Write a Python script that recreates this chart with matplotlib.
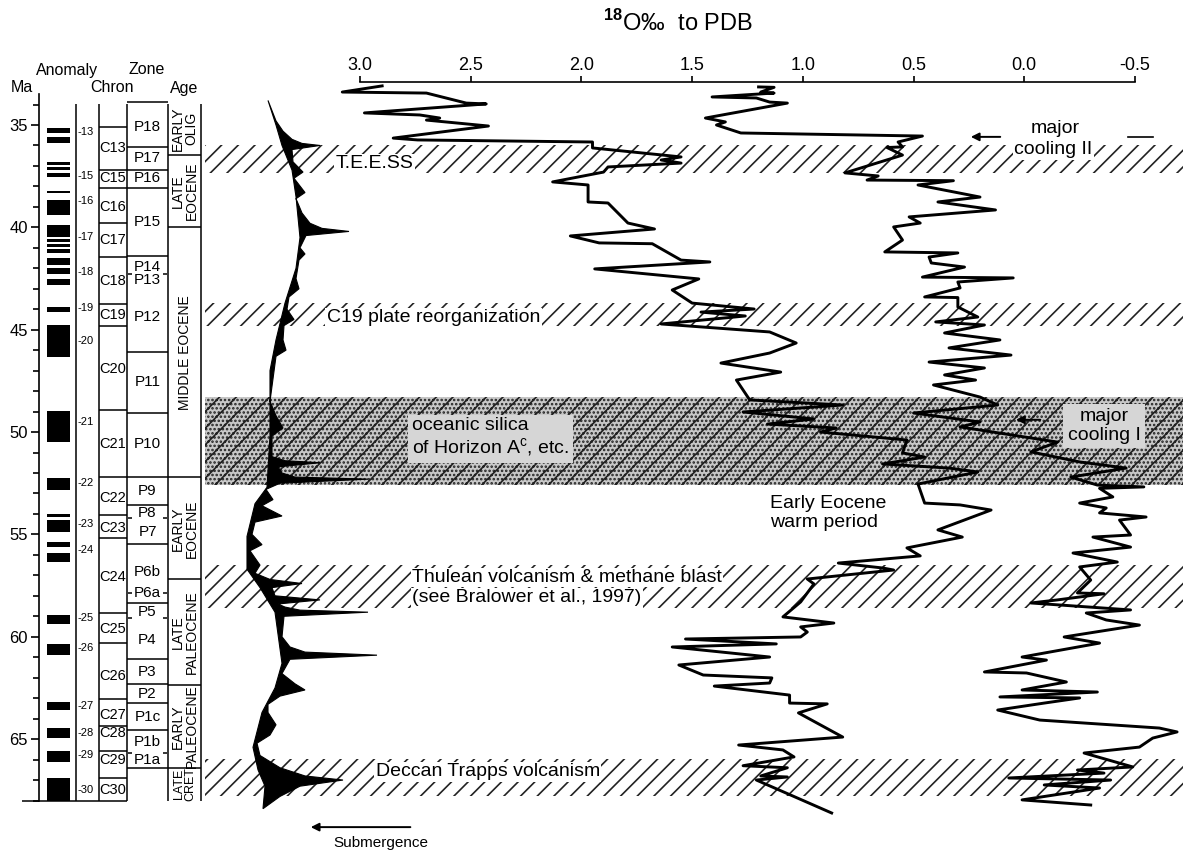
import numpy as np
import matplotlib.pyplot as plt

plt.rcParams['font.family'] = ['Liberation Sans', 'DejaVu Sans']
plt.rcParams['mathtext.fontset'] = 'custom'
plt.rcParams['mathtext.rm'] = 'Liberation Sans'
plt.rcParams['mathtext.bf'] = 'Liberation Sans:bold'
plt.rcParams['hatch.linewidth'] = 1.2

# ---- oxygen isotope curves: age (Ma) and d18O (per mil PDB)
left_age = [33.09, 33.39, 33.44, 33.93, 33.97, 34.41, 34.51, 34.66, 34.76, 35.05,
            35.64, 35.73, 35.83, 36.12, 36.56, 36.71, 36.86, 37.05, 37.30, 37.78,
            37.93, 38.76, 38.81, 39.79, 40.08, 40.42, 40.76, 40.80, 41.60, 41.69,
            42.03, 42.52, 43.06, 43.70, 43.99, 44.14, 44.33, 44.72, 45.11, 45.65,
            46.14, 46.63, 47.07, 47.46, 48.43, 48.68, 49.02, 49.36, 49.61, 49.80,
            50.00, 50.39, 51.02, 51.22, 51.56, 51.76, 51.95, 52.54, 53.47, 53.56,
            53.81, 54.78, 55.13, 55.66, 56.05, 56.40, 56.64, 56.74, 57.18, 57.42,
            58.30, 59.03, 59.33, 59.52, 59.77, 60.01, 60.11, 60.35, 60.50, 60.99,
            61.38, 61.87, 62.01, 62.26, 62.41, 62.85, 63.24, 63.28, 63.72, 64.90,
            65.29, 65.53, 65.87, 66.30, 66.40, 66.80, 66.85, 67.00, 68.61]
left_d18o = [2.90, 3.08, 2.70, 2.52, 2.43, 2.98, 2.73, 2.64, 2.70, 2.42,
             2.85, 2.74, 1.95, 1.95, 1.55, 1.64, 1.55, 1.88, 1.90, 2.13,
             1.97, 1.97, 1.88, 1.79, 1.67, 2.05, 1.92, 1.68, 1.55, 1.42,
             1.94, 1.47, 1.59, 1.50, 1.22, 1.46, 1.26, 1.64, 1.15, 1.03,
             1.15, 1.37, 1.10, 1.30, 1.24, 0.82, 1.27, 0.95, 1.16, 0.85,
             0.92, 0.53, 0.55, 0.45, 0.64, 0.34, 0.21, 0.48, 0.45, 0.29,
             0.15, 0.39, 0.28, 0.53, 0.47, 0.84, 0.64, 0.59, 0.98, 0.95,
             1.01, 1.09, 0.86, 1.01, 0.98, 1.01, 1.53, 1.12, 1.59, 1.15,
             1.56, 1.45, 1.14, 1.15, 1.40, 1.06, 1.06, 0.89, 1.02, 0.82,
             1.29, 1.09, 1.04, 1.27, 1.07, 1.19, 1.07, 1.21, 0.87]

right_age = [33.14, 33.16, 33.39, 33.44, 33.63, 33.68, 33.88, 33.93, 34.66, 34.85,
             35.00, 35.39, 35.54, 35.83, 36.07, 36.10, 36.47, 37.34, 37.49, 37.69,
             37.72, 37.93, 38.52, 38.76, 39.15, 39.49, 39.79, 39.98, 40.62, 41.20,
             41.25, 41.45, 41.74, 41.94, 42.43, 42.47, 42.67, 42.96, 43.40, 43.43,
             43.89, 44.38, 44.62, 44.77, 45.16, 45.50, 45.89, 46.24, 46.58, 46.87,
             47.21, 47.46, 47.70, 48.29, 48.68, 49.07, 49.51, 49.75, 50.49, 50.97,
             51.46, 51.76, 52.20, 52.59, 52.68, 52.75, 53.17, 53.47, 53.71, 53.95,
             54.15, 54.30, 55.03, 55.13, 55.62, 55.91, 56.35, 56.59, 57.23, 57.86,
             57.90, 58.20, 58.35, 58.69, 58.84, 59.18, 59.43, 60.01, 60.31, 60.99,
             61.14, 61.72, 61.77, 62.21, 62.60, 62.70, 62.94, 62.99, 63.24, 63.58,
             64.07, 64.46, 64.65, 64.95, 65.39, 65.68, 66.36, 66.51, 66.66, 66.90,
             67.00, 67.24, 67.39, 67.97, 68.22]
right_d18o = [1.20, 1.13, 1.19, 1.13, 1.41, 1.21, 1.15, 1.07, 1.44, 1.35,
              1.39, 1.28, 0.46, 0.57, 0.55, 0.62, 0.55, 0.81, 0.66, 0.71,
              0.32, 0.48, 0.20, 0.39, 0.13, 0.52, 0.47, 0.59, 0.55, 0.63,
              0.30, 0.43, 0.42, 0.27, 0.46, 0.05, 0.30, 0.29, 0.45, 0.30,
              0.30, 0.21, 0.40, 0.18, 0.36, 0.11, 0.34, 0.06, 0.43, 0.18,
              0.36, 0.22, 0.41, 0.20, 0.12, 0.50, 0.20, 0.29, -0.15, -0.03,
              -0.25, -0.46, -0.21, -0.33, -0.54, -0.34, -0.40, -0.25, -0.37, -0.34,
              -0.55, -0.43, -0.48, -0.31, -0.48, -0.22, -0.42, -0.25, -0.30, -0.24,
              -0.36, -0.15, -0.03, -0.48, -0.28, -0.37, -0.52, -0.18, -0.34, 0.01,
              -0.10, 0.18, -0.01, -0.19, 0.01, -0.33, 0.11, -0.25, -0.09, 0.12,
              -0.07, -0.61, -0.69, -0.58, -0.52, -0.27, -0.49, -0.24, -0.36, 0.07,
              -0.39, -0.09, -0.34, 0.01, -0.30]

# ---- relative sea level (arbitrary index): smooth long-term edge and short-term peaks
sea_base_age = [33.8, 35.0, 36.0, 37.2, 38.5, 40.5, 42.0, 43.7, 45.5, 47.0, 50.2, 52.7,
                53.5, 55.1, 56.7, 57.6, 58.8, 61.3, 62.5, 63.7, 65.4, 66.5, 67.3, 68.4]
sea_base = [2.8, 3.6, 4.2, 5.2, 5.6, 6.0, 5.6, 4.5, 3.6, 3.0, 3.0, 2.7,
            1.5, 0.7, 0.7, 2.0, 3.5, 4.2, 3.5, 2.2, 1.3, 1.8, 2.5, 2.3]
sea_peak_age = [33.8, 34.8, 35.3, 35.7, 35.9, 36.0, 36.2, 36.8, 37.3, 37.6, 38.3, 38.6,
                39.3, 39.8, 40.05, 40.2, 40.4, 41.0, 41.3, 41.6, 42.5, 43.0, 43.4, 44.0,
                44.5, 44.8, 45.5, 46.0, 46.3, 48.5, 49.2, 49.8, 50.2, 51.2, 51.4, 51.5,
                51.7, 52.0, 52.2, 52.3, 52.5, 52.8, 53.3, 53.6, 54.1, 54.4, 55.0, 55.5,
                55.8, 56.5, 56.9, 57.2, 57.4, 57.6, 58.0, 58.2, 58.4, 58.55, 58.7, 58.8,
                59.0, 60.0, 60.5, 60.75, 60.9, 61.1, 61.8, 62.3, 62.6, 62.9, 63.3, 63.7,
                64.3, 64.8, 65.2, 65.8, 66.4, 66.8, 67.0, 67.3, 67.8, 68.4]
sea_peak = [2.8, 3.6, 4.3, 5.2, 6.2, 8.0, 5.2, 5.3, 6.3, 5.4, 6.5, 5.6,
            6.2, 7.0, 8.2, 10.9, 6.6, 6.0, 6.5, 5.9, 5.6, 5.9, 4.9, 4.7,
            5.4, 4.4, 4.3, 4.6, 3.6, 3.0, 3.6, 4.3, 3.2, 3.2, 4.5, 8.0,
            3.8, 4.2, 5.5, 12.8, 4.0, 2.6, 3.3, 2.2, 4.2, 1.5, 1.2, 2.2,
            1.0, 2.0, 1.5, 3.0, 6.2, 3.2, 3.5, 8.0, 3.8, 4.5, 6.0, 12.8,
            4.4, 4.2, 5.0, 6.5, 13.7, 5.0, 4.2, 5.5, 6.5, 4.0, 2.8, 2.8,
            3.6, 3.0, 1.7, 2.0, 4.0, 6.5, 10.3, 6.0, 4.0, 2.3]

# ---- magnetic polarity (normal intervals, Ma)
anomaly_top = [35.15, 35.6, 36.8, 37.05, 37.35, 38.2, 38.65, 39.9, 40.55, 40.8, 41.05,
               41.5, 42.0, 42.5, 43.9, 44.75, 48.95, 52.25, 54.0, 54.3, 55.35, 55.9,
               58.95, 60.35, 63.2, 64.45, 65.6, 66.9]
anomaly_bot = [35.4, 35.9, 36.95, 37.2, 37.55, 38.3, 39.4, 40.45, 40.7, 40.95, 41.25,
               41.85, 42.3, 42.8, 44.15, 46.35, 50.5, 52.85, 54.15, 54.9, 55.6, 56.35,
               59.4, 60.9, 63.6, 64.95, 66.1, 68.0]
anomaly_num = ['13', '15', '16', '17', '18', '19', '20', '21', '22', '23', '24',
               '25', '26', '27', '28', '29', '30']
anomaly_num_age = [35.35, 37.5, 38.7, 40.45, 42.2, 43.95, 45.55, 49.5, 52.5, 54.5, 55.75,
                   59.1, 60.55, 63.4, 64.7, 65.8, 67.5]

chron_bounds = [35.1, 37.2, 38.1, 39.8, 41.45, 43.75, 44.8, 48.9, 52.2, 54.05, 55.2,
                58.85, 60.3, 63.05, 64.35, 65.6, 66.9]
chron_names = ['C13', 'C15', 'C16', 'C17', 'C18', 'C19', 'C20', 'C21', 'C22', 'C23',
               'C24', 'C25', 'C26', 'C27', 'C28', 'C29', 'C30']
chron_label_age = [36.1, 37.6, 39.0, 40.6, 42.6, 44.3, 46.9, 50.6, 53.2, 54.7,
                   57.1, 59.6, 61.9, 63.8, 64.7, 66.0, 67.5]

zone_bounds = [33.9, 36.07, 37.2, 38.1, 41.4, 46.1, 49.05, 52.2, 53.55, 55.45, 58.35,
               61.1, 62.3, 63.25, 64.55, 66.4]
zone_dashed = [42.3, 54.2, 57.85, 59.1, 65.7]
zone_names = ['P18', 'P17', 'P16', 'P15', 'P14', 'P13', 'P12', 'P11', 'P10', 'P9', 'P8',
              'P7', 'P6b', 'P6a', 'P5', 'P4', 'P3', 'P2', 'P1c', 'P1b', 'P1a']
zone_label_age = [35.1, 36.6, 37.6, 39.75, 41.95, 42.55, 44.4, 47.55, 50.6, 52.9, 53.95,
                  54.9, 56.85, 57.85, 58.8, 60.15, 61.7, 62.8, 63.9, 65.15, 66.0]

epoch_bounds = [33.9, 36.45, 40.0, 52.2, 57.2, 62.35, 66.4, 68.0]
epoch_names = ['EARLY\nOLIG', 'LATE\nEOCENE', 'MIDDLE EOCENE', 'EARLY\nEOCENE',
               'LATE\nPALEOCENE', 'EARLY\nPALEOCENE', 'LATE\nCRET']

# ---- event bands (Ma)
band_top = [35.98, 43.72, 48.29, 56.5, 65.95]
band_bot = [37.34, 44.82, 52.59, 58.6, 67.8]
band_silica = [False, False, True, False, False]

# ---------------------------------------------------------------- layout
W, H = 1191, 852
TOP, BOT = 82, 840
PX_PER_MA = 20.47


def ma_at(py):
    return 35 + (py - 125) / PX_PER_MA


MA_TOP, MA_BOT = ma_at(TOP), ma_at(BOT)


def box(x0, x1):
    return [x0 / W, 1 - BOT / H, (x1 - x0) / W, (BOT - TOP) / H]


fig = plt.figure(figsize=(W / 100, H / 100), dpi=100)

# stratigraphic columns
ax_col = fig.add_axes(box(0, 205))
ax_col.set_xlim(0, 205)
ax_col.set_ylim(MA_BOT, MA_TOP)
ax_col.patch.set_visible(False)
for s in ['top', 'right', 'bottom']:
    ax_col.spines[s].set_visible(False)
ax_col.spines['left'].set_position(('data', 39))
ax_col.spines['left'].set_bounds(33.5, 68.0)
ax_col.spines['left'].set_linewidth(1.2)
ax_col.set_xticks([])
ax_col.set_yticks(np.arange(35, 66, 5))
ax_col.set_yticks(np.arange(34, 69, 1), minor=True)
ax_col.tick_params(axis='y', which='major', length=6, width=1.2, labelsize=12, pad=2)
ax_col.tick_params(axis='y', which='minor', length=4.5, width=1.2)

lw = 1.1
ax_col.vlines([76, 99, 127, 167.5, 201], 33.95, 68.0, color='black', lw=lw)
ax_col.hlines(68.0, 22, 127, color='black', lw=lw)
ax_col.hlines(chron_bounds, 99, 127, color='black', lw=lw)
ax_col.hlines(zone_bounds, 127, 167.5, color='black', lw=lw)
ax_col.hlines(zone_dashed, 128, 132, color='black', lw=lw)
ax_col.hlines(zone_dashed, 163, 167, color='black', lw=lw)
ax_col.hlines(epoch_bounds[1:-1], 167.5, 201, color='black', lw=lw)

ax_col.bar(58.5, np.array(anomaly_bot) - np.array(anomaly_top), bottom=anomaly_top,
           width=23, color='black')
for n, a in zip(anomaly_num, anomaly_num_age):
    ax_col.text(77, a, '-' + n, fontsize=8, ha='left', va='center')
for n, a in zip(chron_names, chron_label_age):
    ax_col.text(113, a, n, fontsize=10.5, ha='center', va='center')
for n, a in zip(zone_names, zone_label_age):
    ax_col.text(147.5, a, n, fontsize=11, ha='center', va='center')
for i, n in enumerate(epoch_names):
    a0, a1 = epoch_bounds[i], epoch_bounds[i + 1]
    ax_col.text(184.5, (a0 + a1) / 2, n, rotation=90, fontsize=10 if a1 - a0 > 2 else 9,
                ha='center', va='center', multialignment='center', linespacing=1.0)

for label, px, py in [('Anomaly', 67, 70), ('Zone', 147, 70), ('Ma', 22, 88),
                      ('Chron', 112, 88), ('Age', 184, 88)]:
    fig.text(px / W, 1 - py / H, label, fontsize=11.5, ha='center', va='center')

# isotope panel
X_LEFT, X_RIGHT = 205, 1185
D_PER_PX = 3.5 / 775
ax_iso = fig.add_axes(box(X_LEFT, X_RIGHT))
ax_iso.set_xlim(3.0 + (360 - X_LEFT) * D_PER_PX, -0.5 - (X_RIGHT - 1135) * D_PER_PX)
ax_iso.set_ylim(MA_BOT, MA_TOP)
ax_iso.patch.set_visible(False)
for s in ['left', 'right', 'bottom']:
    ax_iso.spines[s].set_visible(False)
ax_iso.spines['top'].set_bounds(-0.5, 3.0)
ax_iso.spines['top'].set_linewidth(1.2)
ax_iso.xaxis.tick_top()
ax_iso.set_xticks(np.arange(-0.5, 3.01, 0.5))
ax_iso.set_xticklabels([f'{v:.1f}' for v in np.arange(-0.5, 3.01, 0.5)])
ax_iso.tick_params(axis='x', length=4, width=1.2, labelsize=13, pad=2)
ax_iso.set_yticks([])

for t, b, silica in zip(band_top, band_bot, band_silica):
    if silica:
        ax_iso.axhspan(t, b, xmin=0, xmax=0.998, facecolor='#c8c8c8', edgecolor='#222222',
                       hatch='//....', lw=0, zorder=1)
    else:
        ax_iso.axhspan(t, b, xmin=0, xmax=0.998, facecolor='none', edgecolor='#222222',
                       hatch='//', lw=0, zorder=1)

ax_iso.plot(left_d18o, left_age, color='black', lw=2.1, zorder=4)
ax_iso.plot(right_d18o, right_age, color='black', lw=2.1, zorder=4)

white = dict(facecolor='white', edgecolor='none', pad=1.0)
grey = dict(facecolor='#d6d6d6', edgecolor='none', pad=3.0)
fs = 14
ax_iso.text(3.11, 36.9, 'T.E.E.SS', fontsize=fs, ha='left', va='center', bbox=white, zorder=3)
ax_iso.text(3.15, 44.4, 'C19 plate reorganization', fontsize=fs, ha='left', va='center',
            bbox=white, zorder=3)
ax_iso.text(2.765, 50.3, 'oceanic silica\nof Horizon A$^{\\mathrm{c}}$, etc.', fontsize=fs,
            ha='left', va='center', linespacing=1.1, bbox=grey, zorder=3)
ax_iso.text(1.15, 53.95, 'Early Eocene\nwarm period', fontsize=fs, ha='left', va='center',
            linespacing=1.1, zorder=3)
ax_iso.text(2.765, 57.1, 'Thulean volcanism & methane blast', fontsize=fs, ha='left',
            va='center', bbox=white, zorder=3)
ax_iso.text(2.765, 58.1, '(see Bralower et al., 1997)', fontsize=fs, ha='left',
            va='center', bbox=white, zorder=3)
ax_iso.text(2.93, 66.6, 'Deccan Trapps volcanism', fontsize=fs, ha='left', va='center',
            bbox=white, zorder=3)
ax_iso.text(-0.36, 49.7, 'major\ncooling I', fontsize=fs, ha='center', va='center',
            linespacing=1.1, bbox=grey, zorder=3)
ax_iso.text(-0.14, 35.15, 'major', fontsize=fs, ha='center', va='center', zorder=3)
ax_iso.text(-0.13, 36.22, 'cooling II', fontsize=fs, ha='center', va='center',
            bbox=white, zorder=3)
ax_iso.plot([-0.47, -0.58], [35.58, 35.58], color='black', lw=1.2, zorder=3)

arrow = dict(arrowstyle='-|>', color='black', lw=1.4, mutation_scale=12)
ax_iso.annotate('', xy=(0.254, 35.58), xytext=(0.096, 35.58), arrowprops=arrow, zorder=5)
ax_iso.annotate('', xy=(0.05, 49.4), xytext=(-0.085, 49.4), arrowprops=arrow, zorder=5)
ax_iso.annotate('', xy=(3.235, 69.3), xytext=(2.76, 69.3), arrowprops=arrow,
                annotation_clip=False)
ax_iso.text(2.905, 70.1, 'Submergence', fontsize=11, ha='center', va='center')

fig.text(678 / W, 1 - 23 / H, '$^{\\mathbf{18}}$O\u2030  to PDB', fontsize=17,
         ha='center', va='center')

# sea-level curve, drawn on top of the bands
ax_sea = fig.add_axes(box(240, 390), zorder=5)
ax_sea.set_xlim(0, 15)
ax_sea.set_ylim(MA_BOT, MA_TOP)
ax_sea.axis('off')
ax_sea.fill(np.r_[sea_base, sea_peak[::-1]], np.r_[sea_base_age, sea_peak_age[::-1]],
            facecolor='black', edgecolor='black', lw=0.8)

fig.savefig('out.png', dpi=100)
